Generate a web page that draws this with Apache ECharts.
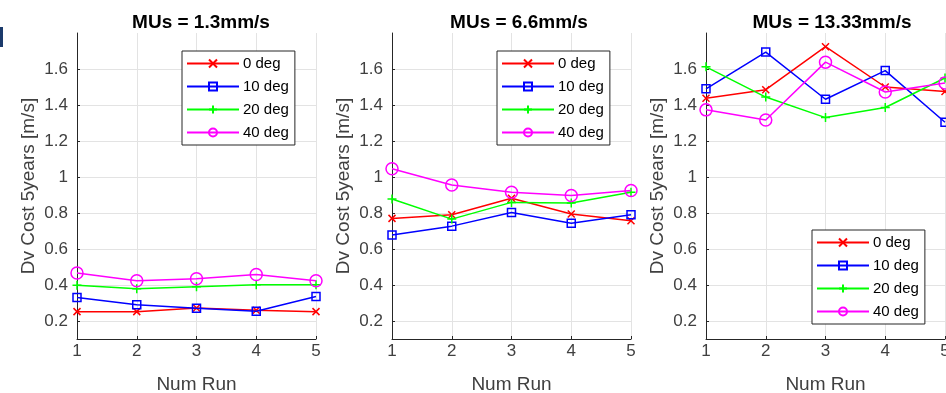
<!DOCTYPE html>
<html>
<head>
<meta charset="utf-8">
<script src="https://cdn.jsdelivr.net/npm/echarts@6/dist/echarts.min.js"></script>
<style>
  html, body { margin: 0; padding: 0; background: #fff; }
  #main { width: 946px; height: 393px; }
</style>
</head>
<body>
<div id="main"></div>
<script>
// data
let runs = [1, 2, 3, 4, 5];
let yTicks = [0.2, 0.4, 0.6, 0.8, 1, 1.2, 1.4, 1.6];
let seriesNames = ['0 deg', '10 deg', '20 deg', '40 deg'];
let titles = ['MUs = 1.3mm/s', 'MUs = 6.6mm/s', 'MUs = 13.33mm/s'];

let mu13_deg0 = [0.252, 0.252, 0.272, 0.260, 0.252];
let mu13_deg10 = [0.331, 0.290, 0.271, 0.254, 0.336];
let mu13_deg20 = [0.398, 0.379, 0.390, 0.402, 0.402];
let mu13_deg40 = [0.467, 0.424, 0.435, 0.458, 0.424];

let mu66_deg0 = [0.770, 0.790, 0.882, 0.794, 0.757];
let mu66_deg10 = [0.678, 0.727, 0.803, 0.743, 0.790];
let mu66_deg20 = [0.878, 0.766, 0.859, 0.855, 0.915];
let mu66_deg40 = [1.046, 0.956, 0.915, 0.897, 0.925];

let mu1333_deg0 = [1.438, 1.485, 1.724, 1.500, 1.475];
let mu1333_deg10 = [1.490, 1.694, 1.432, 1.591, 1.304];
let mu1333_deg20 = [1.612, 1.444, 1.330, 1.386, 1.550];
let mu1333_deg40 = [1.373, 1.317, 1.638, 1.472, 1.522];

let panels = [
    [mu13_deg0, mu13_deg10, mu13_deg20, mu13_deg40],
    [mu66_deg0, mu66_deg10, mu66_deg20, mu66_deg40],
    [mu1333_deg0, mu1333_deg10, mu1333_deg20, mu1333_deg40]
];

let colors = ['#ff0000', '#0000ff', '#00ff00', '#ff00ff'];
let symbols = [
    'path://M0,0L10,10M10,0L0,10',
    'rect',
    'path://M5,0L5,10M0,5L10,5',
    'circle'
];
let symbolSizes = [7, 8, 9, 12];

let font = 'Liberation Sans, Arial, Helvetica, sans-serif';
let gridLefts = [77, 392, 706];
let titleCenters = [196, 514, 827];

let myChart = echarts.init(document.getElementById('main'));

let grids = [], xAxes = [], yAxes = [], titleList = [], series = [];
for (let p = 0; p < 3; p++) {
    grids.push({ left: gridLefts[p], top: 33, width: 239, height: 306, outerBoundsMode: 'none', containLabel: false });
    titleList.push({
        text: titles[p],
        left: titleCenters[p],
        top: 8,
        textAlign: 'center',
        textStyle: { fontFamily: font, fontSize: 19, fontWeight: 'bold', color: '#000' }
    });
    xAxes.push({
        type: 'value',
        gridIndex: p,
        min: 1,
        max: 5,
        interval: 1,
        name: 'Num Run',
        nameLocation: 'middle',
        nameGap: 36,
        nameTextStyle: { fontFamily: font, fontSize: 19, color: '#404040' },
        axisLine: { lineStyle: { color: '#262626', width: 1 } },
        axisTick: { inside: true, length: 3, lineStyle: { color: '#262626' } },
        axisLabel: { fontFamily: font, fontSize: 17, color: '#404040', margin: 4 },
        splitLine: { show: true, lineStyle: { color: '#e3e3e3', width: 1 } }
    });
    yAxes.push({
        type: 'value',
        gridIndex: p,
        min: 0.1,
        max: 1.8,
        name: 'Dv Cost 5years [m/s]',
        nameLocation: 'middle',
        nameGap: 39,
        nameTextStyle: { fontFamily: font, fontSize: 19, color: '#404040' },
        axisLine: { show: true, lineStyle: { color: '#262626', width: 1 } },
        axisTick: { show: true, inside: true, length: 3, customValues: yTicks, lineStyle: { color: '#262626' } },
        axisLabel: { fontFamily: font, fontSize: 17, color: '#404040', margin: 9, customValues: yTicks },
        splitLine: { show: true, customValues: yTicks, lineStyle: { color: '#e3e3e3', width: 1 } }
    });
    for (let s = 0; s < 4; s++) {
        series.push({
            name: seriesNames[s],
            type: 'line',
            xAxisIndex: p,
            yAxisIndex: p,
            data: runs.map((r, i) => [r, panels[p][s][i]]),
            symbol: symbols[s],
            symbolSize: symbolSizes[s],
            showAllSymbol: true,
            lineStyle: { color: colors[s], width: 1.5 },
            itemStyle: { color: 'rgba(0,0,0,0)', borderColor: colors[s], borderWidth: 1.5 },
            emphasis: { disabled: true },
            animation: false,
            z: 2 + s
        });
    }
}

let legendBase = {
    orient: 'vertical',
    data: seriesNames,
    itemWidth: 52,
    itemHeight: 10,
    itemGap: 8,
    padding: [5, 6, 5, 4],
    borderColor: '#262626',
    borderWidth: 1,
    backgroundColor: '#ffffff',
    textStyle: { fontFamily: font, fontSize: 15, color: '#000', padding: [0, 0, 0, -1] },
    selectedMode: false
};

let option = {
    backgroundColor: '#ffffff',
    animation: false,
    title: titleList,
    grid: grids,
    xAxis: xAxes,
    yAxis: yAxes,
    legend: [
        Object.assign({}, legendBase, { left: 182, top: 51 }),
        Object.assign({}, legendBase, { left: 497, top: 51 }),
        Object.assign({}, legendBase, { left: 812, top: 230 })
    ],
    graphic: [{
        type: 'rect',
        shape: { x: 0, y: 27, width: 3, height: 20 },
        style: { fill: '#1b3a6b' },
        silent: true
    }],
    series: series
};
myChart.setOption(option);
</script>
</body>
</html>
